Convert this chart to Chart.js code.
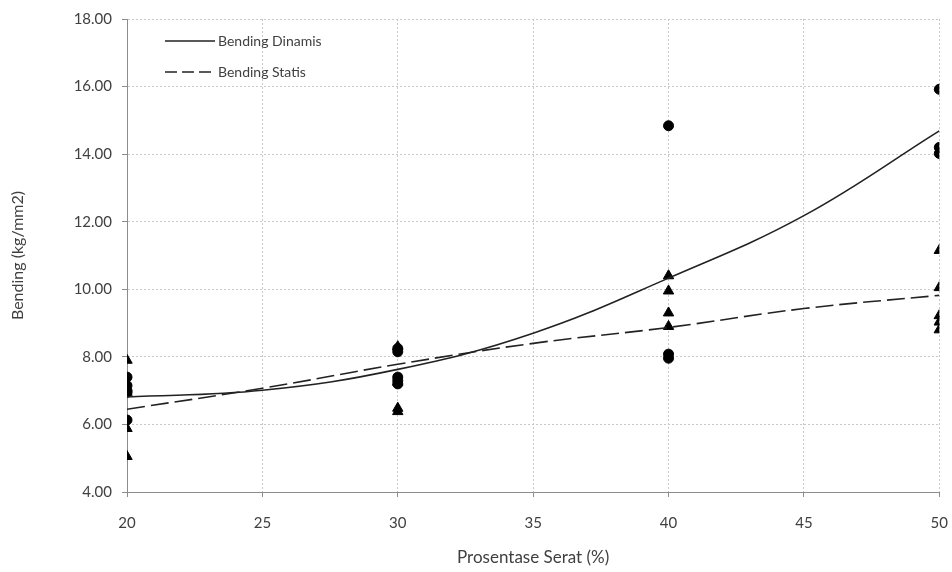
<!DOCTYPE html>
<html>
<head>
<meta charset="utf-8">
<script src="https://cdn.jsdelivr.net/npm/chart.js@4"></script>
<style>
  html, body { margin: 0; padding: 0; background: #fff; }
  #wrap { width: 952px; height: 572px; }
</style>
</head>
<body>
<div id="wrap"><canvas id="bendingChart" width="952" height="572"></canvas></div>
<script>
// data
const serat = [20, 25, 30, 35, 40, 45, 50];
const trendDinamis = [6.81, 7.01, 7.63, 8.70, 10.33, 12.18, 14.69];
const trendStatis = [6.45, 7.07, 7.78, 8.40, 8.87, 9.43, 9.82];

const dinamisX = [20, 20, 20, 20, 20, 30, 30, 30, 30, 30, 40, 40, 40, 50, 50, 50];
const dinamisY = [7.40, 7.15, 7.00, 6.95, 6.13, 8.25, 8.15, 7.40, 7.30, 7.20, 14.84, 8.08, 7.96, 15.92, 14.20, 14.02];

const statisX = [20, 20, 20, 20, 30, 30, 30, 30, 40, 40, 40, 40, 50, 50, 50, 50, 50];
const statisY = [7.90, 6.95, 5.88, 5.05, 8.30, 7.25, 6.48, 6.38, 10.40, 9.95, 9.30, 8.90, 11.15, 10.05, 9.22, 9.03, 8.80];

const yTicks = [4, 6, 8, 10, 12, 14, 16, 18];

const toPoints = (xs, ys) => xs.map((x, i) => ({ x: x, y: ys[i] }));

const FONT = 'Lato, "Open Sans", sans-serif';

// legend drawn inside the plot area, top left
const insideLegend = {
    id: 'insideLegend',
    afterDraw(chart) {
        const ctx = chart.ctx;
        const area = chart.chartArea;
        const items = [
            { text: 'Bending Dinamis', dash: [] },
            { text: 'Bending Statis', dash: [12, 5] }
        ];
        ctx.save();
        ctx.font = '14px ' + FONT;
        ctx.fillStyle = '#404040';
        ctx.textBaseline = 'middle';
        items.forEach((it, i) => {
            const y = area.top + 22 + i * 31;
            ctx.beginPath();
            ctx.setLineDash(it.dash);
            ctx.strokeStyle = '#222';
            ctx.lineWidth = 1.6;
            ctx.moveTo(area.left + 38, y);
            ctx.lineTo(area.left + 88, y);
            ctx.stroke();
            ctx.setLineDash([]);
            ctx.fillText(it.text, area.left + 91, y);
        });
        ctx.restore();
    }
};

const gridOpts = {
    color: '#c8c8c8',
    tickColor: '#8c8c8c',
    tickBorderDash: [],
    tickLength: 5
};

const ctx = document.getElementById('bendingChart').getContext('2d');
new Chart(ctx, {
    type: 'scatter',
    data: {
        datasets: [
            {
                label: 'Bending Dinamis',
                type: 'line',
                data: toPoints(serat, trendDinamis),
                borderColor: '#222',
                borderWidth: 1.6,
                pointRadius: 0,
                fill: false,
                tension: 0.4
            },
            {
                label: 'Bending Statis',
                type: 'line',
                data: toPoints(serat, trendStatis),
                borderColor: '#222',
                borderWidth: 1.6,
                borderDash: [18, 6],
                pointRadius: 0,
                fill: false,
                tension: 0.4
            },
            {
                label: 'Dinamis',
                data: toPoints(dinamisX, dinamisY),
                pointStyle: 'circle',
                pointRadius: 5,
                backgroundColor: '#000',
                borderColor: '#000'
            },
            {
                label: 'Statis',
                data: toPoints(statisX, statisY),
                pointStyle: 'triangle',
                pointRadius: 6,
                backgroundColor: '#000',
                borderColor: '#000'
            }
        ]
    },
    options: {
        responsive: false,
        animation: false,
        layout: { padding: { top: 10, right: 12, left: 4, bottom: 0 } },
        plugins: {
            legend: { display: false },
            tooltip: { enabled: false }
        },
        scales: {
            x: {
                type: 'linear',
                min: 20,
                max: 50,
                afterFit(scale) { scale.height = 80; },
                ticks: {
                    stepSize: 5,
                    color: '#404040',
                    padding: 4,
                    font: { family: FONT, size: 15, lineHeight: 2.9 }
                },
                grid: gridOpts,
                border: { color: '#8c8c8c', dash: [2, 2] },
                title: {
                    display: true,
                    text: 'Prosentase Serat (%)',
                    color: '#404040',
                    padding: { top: 0 },
                    font: { family: FONT, size: 17 }
                }
            },
            y: {
                min: 4,
                max: 18,
                afterFit(scale) { scale.width = 123; },
                afterBuildTicks(scale) { scale.ticks = yTicks.map(v => ({ value: v })); },
                ticks: {
                    color: '#404040',
                    padding: 10,
                    font: { family: FONT, size: 15 },
                    callback: v => v.toFixed(2)
                },
                grid: gridOpts,
                border: { color: '#8c8c8c', dash: [2, 2] },
                title: {
                    display: true,
                    text: 'Bending (kg/mm2)',
                    color: '#404040',
                    font: { family: FONT, size: 16 }
                }
            }
        }
    },
    plugins: [insideLegend]
});
</script>
</body>
</html>
